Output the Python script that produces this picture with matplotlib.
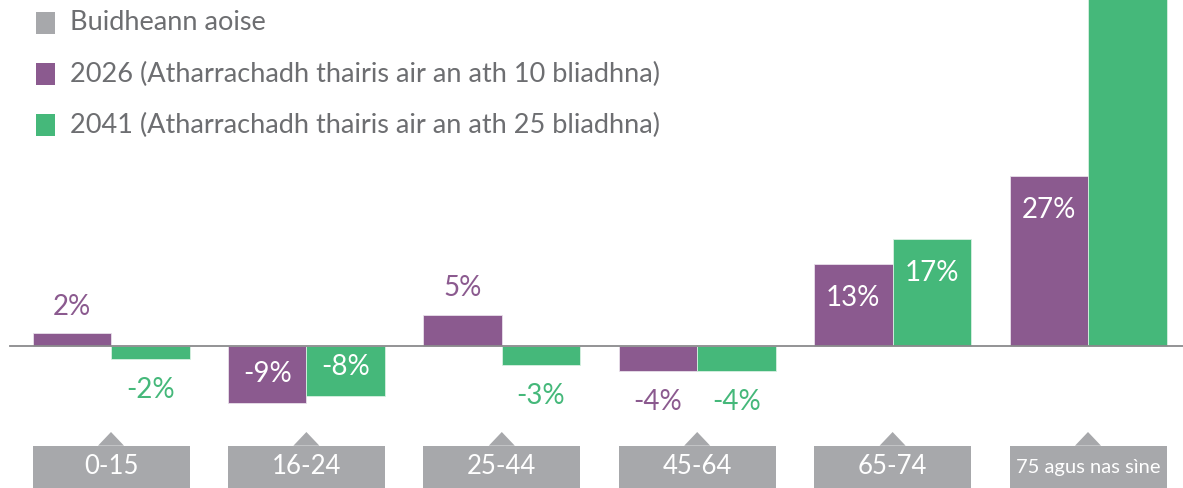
import matplotlib
matplotlib.use("Agg")
import matplotlib.pyplot as plt
from matplotlib.patches import Rectangle, Polygon
import numpy as np

plt.rcParams['font.family'] = ['Lato', 'DejaVu Sans']

categories = ['0-15', '16-24', '25-44', '45-64', '65-74', '75 agus nas sìne']
values_2026 = [2, -9, 5, -4, 13, 27]
values_2041 = [-2, -8, -3, -4, 17, 79]
legend_labels = ['Buidheann aoise',
                 '2026 (Atharrachadh thairis air an ath 10 bliadhna)',
                 '2041 (Atharrachadh thairis air an ath 25 bliadhna)']

PURPLE = '#8b5a8f'
GREEN = '#45b87a'
GREY = '#a7a8ab'
TEXT_GREY = '#6d6e71'

W, H = 1183, 488
fig = plt.figure(figsize=(W / 100, H / 100), dpi=100)
ax = fig.add_axes([0, 0, 1, 1])

# pixel geometry
base_px = 346.0
px_per_pct = 6.3
grp0_px = 111.0
grp_step = 195.4
bar_w = 78.5 / grp_step

ax.set_xlim(-grp0_px / grp_step, (W - grp0_px) / grp_step)
ax.set_ylim(-(H - base_px) / px_per_pct, base_px / px_per_pct)
ax.axis('off')

def ypx(p):  # pixel row -> data y
    return (base_px - p) / px_per_pct

x = np.arange(len(categories))
b1 = ax.bar(x - bar_w / 2, values_2026, bar_w, color=PURPLE, edgecolor='#e8e0ea', linewidth=0.6, zorder=2)
b2 = ax.bar(x + bar_w / 2, values_2041, bar_w, color=GREEN, edgecolor='#d8f0e2', linewidth=0.6, zorder=2)

# baseline
ax.axhline(0, xmin=10 / W, xmax=1, color='#8a8a8c', linewidth=1.3, zorder=3)

# value labels
def label(bars, vals, col):
    for rect, v in zip(bars, vals):
        cx = rect.get_x() + rect.get_width() / 2
        inside = abs(v) >= 8
        if v >= 0:
            off = -34 if inside else 26
        else:
            off = 29 if inside else -31
        ax.annotate(f'{v}%', (cx, v), xytext=(0, off * 0.72), textcoords='offset points',
                    ha='center', va='center', fontsize=20,
                    color='white' if inside else col, zorder=4, clip_on=True)

label(b1, values_2026, PURPLE)
label(b2, values_2041, GREEN)

# category boxes with pointer
box_top = ypx(446)
box_bot = ypx(500)
apex = ypx(432)
tri_hw = 13 / grp_step
for i, c in enumerate(categories):
    ax.add_patch(Rectangle((i - bar_w, box_bot), 2 * bar_w, box_top - box_bot,
                           facecolor=GREY, edgecolor='none', zorder=2))
    ax.add_patch(Polygon([(i - tri_hw, box_top + 0.05), (i, apex), (i + tri_hw, box_top + 0.05)],
                         closed=True, facecolor=GREY, edgecolor='none', zorder=2))
    fs = 14.5 if len(c) > 6 else 18.5
    ax.text(i, ypx(467), c, ha='center', va='center', color='white', fontsize=fs, zorder=3)

# legend
leg_cols = [GREY, PURPLE, GREEN]
rows_px = [23, 74, 125]
for lab, col, r in zip(legend_labels, leg_cols, rows_px):
    fig.patches.append(Rectangle((36 / W, 1 - (r + 11) / H), 19 / W, 22 / H,
                                 transform=fig.transFigure, facecolor=col, edgecolor='none'))
    fig.text(70 / W, 1 - r / H, lab, ha='left', va='center', fontsize=19.5, color=TEXT_GREY)

fig.savefig('out.png', dpi=100)
